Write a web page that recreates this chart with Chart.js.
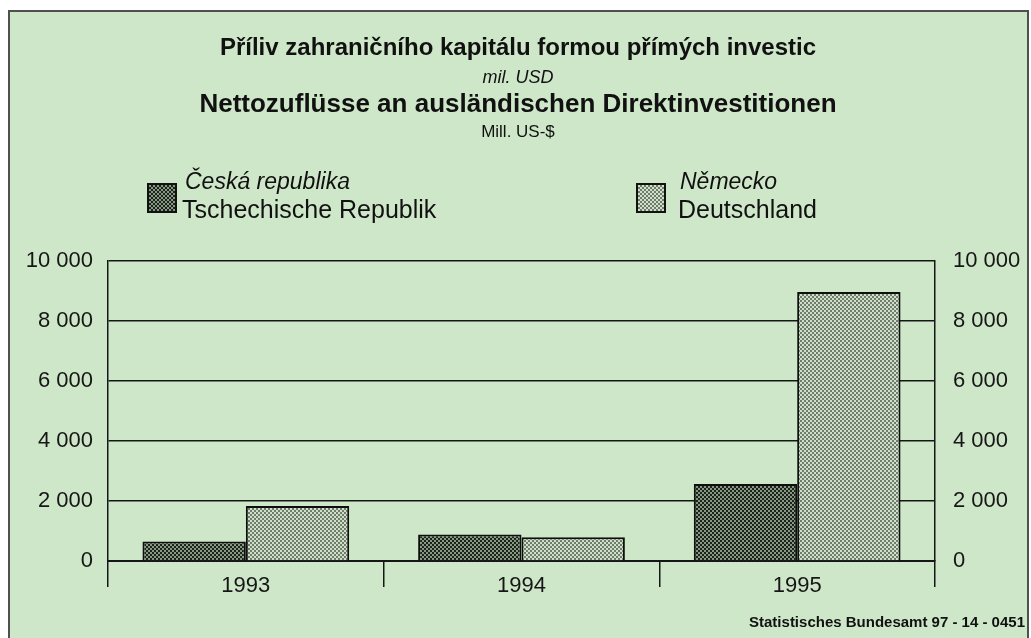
<!DOCTYPE html>
<html>
<head>
<meta charset="utf-8">
<script src="https://cdn.jsdelivr.net/npm/chart.js@4"></script>
<style>
  html, body { margin: 0; padding: 0; background: #fff; overflow: hidden; }
  #frame { position: absolute; left: 8px; top: 10px; width: 1021px; height: 650px;
           background: #cfe7c9; border: 2px solid #505050; box-sizing: border-box; }
  #c { position: absolute; left: 0; top: 0; }
  .txt { position: absolute; font-family: "Liberation Sans", Arial, sans-serif; color: #111;
         white-space: nowrap; line-height: 1; }
  .ctr { left: 0; width: 1036px; text-align: center; }
  .sw { position: absolute; width: 26px; height: 26px; border: 2px solid #111;
        background-size: 4px 4px; }
  .sw.dark  { background-image: repeating-conic-gradient(#1c221c 0 25%, #86987f 0 50%); }
  .sw.light { background-image: repeating-conic-gradient(#6e7e6b 0 25%, #cfdfca 0 50%); }
</style>
</head>
<body>
<div id="frame"></div>
<canvas id="c" width="1031" height="638"></canvas>

<div class="txt ctr" style="top:35px;font-size:24px;font-weight:bold">Příliv zahraničního kapitálu formou přímých investic</div>
<div class="txt ctr" style="top:68px;font-size:18px;font-style:italic">mil. USD</div>
<div class="txt ctr" style="top:90px;font-size:26px;font-weight:bold">Nettozuflüsse an ausländischen Direktinvestitionen</div>
<div class="txt ctr" style="top:123px;font-size:17px">Mill. US-$</div>

<div class="sw dark" style="left:147px;top:183px"></div>
<div class="txt" style="left:185px;top:170px;font-size:23px;font-style:italic">Česká republika</div>
<div class="txt" style="left:182px;top:197px;font-size:25px">Tschechische Republik</div>

<div class="sw light" style="left:636px;top:183px"></div>
<div class="txt" style="left:680px;top:170px;font-size:23px;font-style:italic">Německo</div>
<div class="txt" style="left:678px;top:197px;font-size:25px">Deutschland</div>

<div class="txt" style="right:6px;top:614px;font-size:15px;font-weight:bold">Statistisches Bundesamt 97 - 14 - 0451</div>

<script>
// Nettozuflüsse, Mill. US-$
const years   = ['1993', '1994', '1995'];
const czech   = [650, 880, 2570];
const germany = [1830, 790, 8970];
const yTicks  = [0, 2000, 4000, 6000, 8000, 10000];

const FONT = '"Liberation Sans", Arial, sans-serif';
const INK = '#161616';

// halftone-like dot fill for the bars
function dots(a, b) {
  const t = document.createElement('canvas');
  t.width = 4; t.height = 4;
  const g = t.getContext('2d');
  g.fillStyle = b; g.fillRect(0, 0, 4, 4);
  g.fillStyle = a; g.fillRect(0, 0, 2, 2); g.fillRect(2, 2, 2, 2);
  return g.createPattern(t, 'repeat');
}

const ctx = document.getElementById('c').getContext('2d');
const darkFill  = dots('#1c221c', '#86987f');
const lightFill = dots('#6e7e6b', '#cfdfca');

const fmt = v => String(v).replace(/\B(?=(\d{3})+(?!\d))/g, ' ');
const setTicks = s => { s.ticks = yTicks.map(v => ({ value: v })); };

const yAxis = (pos, width, pad) => ({
  position: pos, min: 0, max: 10000,
  afterBuildTicks: setTicks,
  afterFit: s => { s.width = width; },
  ticks: { padding: pad, color: INK, font: { family: FONT, size: 22 }, callback: fmt },
  grid: { display: pos === 'left', color: INK, lineWidth: 1.5, drawTicks: false },
  border: { display: true, color: INK, width: 1.5 }
});

new Chart(ctx, {
  type: 'bar',
  data: {
    labels: years,
    datasets: [
      { label: 'Tschechische Republik', data: czech, backgroundColor: darkFill,
        borderColor: '#0e0e0e', borderWidth: 2 },
      { label: 'Deutschland', data: germany, backgroundColor: lightFill,
        borderColor: '#0e0e0e', borderWidth: 2 }
    ]
  },
  options: {
    responsive: false,
    animation: false,
    devicePixelRatio: 1,
    layout: { padding: { top: 261, bottom: 37, left: 0, right: 0 } },
    datasets: { bar: { categoryPercentage: 0.75, barPercentage: 1 } },
    plugins: { legend: { display: false }, title: { display: false }, tooltip: { enabled: false } },
    scales: {
      x: {
        afterFit: s => { s.height = 40; },
        grid: { offset: true, drawOnChartArea: false, tickLength: 26, color: INK, lineWidth: 1.5 },
        border: { display: true, color: INK, width: 2 },
        ticks: { padding: -14, color: INK, font: { family: FONT, size: 22 } }
      },
      y: yAxis('left', 108, 15),
      y2: yAxis('right', 96, 18)
    }
  }
});
</script>
</body>
</html>
